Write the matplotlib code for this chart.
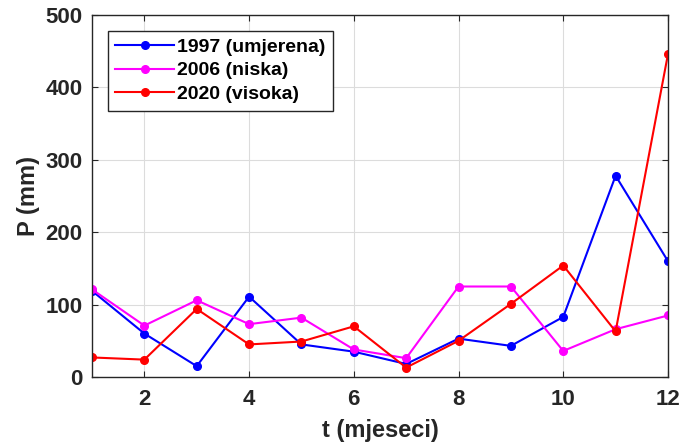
import numpy as np
import matplotlib.pyplot as plt

plt.rcParams['font.family'] = ['Liberation Sans', 'DejaVu Sans']
plt.rcParams['font.weight'] = 'bold'

# monthly precipitation
months = np.arange(1, 13)
p_1997 = [119, 60, 15, 111, 45, 35, 18, 53, 43, 83, 278, 160]
p_2006 = [121, 71, 106, 73, 82, 38, 26, 125, 125, 36, 66, 85]
p_2020 = [27, 24, 94, 45, 49, 70, 13, 50, 101, 154, 63, 446]

fig = plt.figure(figsize=(6.83, 4.47), dpi=100)
ax = fig.add_axes([0.1347, 0.1566, 0.978 - 0.1347, 0.9664 - 0.1566])

ax.plot(months, p_1997, color='blue', marker='o', markersize=5.5, linewidth=1.5, label='1997 (umjerena)')
ax.plot(months, p_2006, color='magenta', marker='o', markersize=5.5, linewidth=1.5, label='2006 (niska)')
ax.plot(months, p_2020, color='red', marker='o', markersize=5.5, linewidth=1.5, label='2020 (visoka)')

ax.set_xlim(1, 12)
ax.set_ylim(0, 500)
ax.set_xticks([2, 4, 6, 8, 10, 12])
ax.set_yticks([0, 100, 200, 300, 400, 500])
ax.grid(True, color='#dcdcdc', linewidth=0.8)
ax.tick_params(direction='in', top=True, right=True, labelsize=16, length=4, color='#262626')
ax.tick_params(axis='x', pad=9)
ax.tick_params(axis='y', pad=7)
for lab in ax.get_xticklabels() + ax.get_yticklabels():
    lab.set_fontweight('bold')
    lab.set_color('#262626')
for s in ax.spines.values():
    s.set_color('#262626')
    s.set_linewidth(1.0)

ax.set_xlabel('t (mjeseci)', fontsize=17, fontweight='bold', color='#262626', labelpad=6)
ax.set_ylabel('P (mm)', fontsize=17, fontweight='bold', color='#262626', labelpad=4)

leg = ax.legend(loc='upper left', fontsize=14, frameon=True, fancybox=False,
                edgecolor='#262626', framealpha=1, borderaxespad=0.8, handlelength=3.0,
                handletextpad=0.18, labelspacing=0.3)
leg.get_frame().set_linewidth(1.0)

fig.savefig('out.png', dpi=100)
